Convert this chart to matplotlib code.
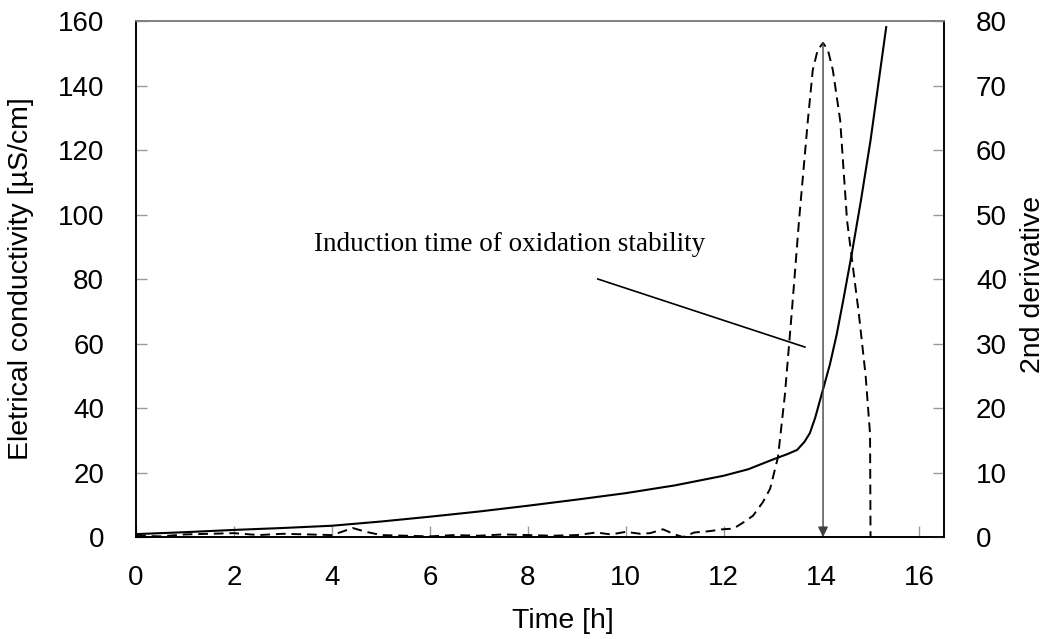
# -*- coding: utf-8 -*-
"""
电导率曲线 + 二阶导数 (诱导期判定)
"""
import matplotlib
matplotlib.use('Agg')
import matplotlib.pyplot as plt

plt.rcParams['font.family'] = ['Liberation Sans', 'DejaVu Sans']

# ---- 电导率 (左轴) ----
t_cond = [0, 1, 2, 3, 4, 5, 6, 7, 8, 9, 10, 11, 12, 12.5, 13, 13.3, 13.5,
          13.65, 13.76, 13.87, 13.97, 14.07, 14.17, 14.31, 14.44, 14.62,
          14.8, 15.0, 15.32]
cond = [0.9, 1.5, 2.2, 2.8, 3.5, 4.8, 6.3, 7.9, 9.7, 11.6, 13.6, 16.0, 19.0,
        21.0, 24.0, 25.7, 27.0, 29.5, 32.2, 37.0, 42.5, 48.0, 53.5, 62.9,
        73.2, 88.1, 104.0, 123.0, 158.1]

# ---- 二阶导数 (右轴) ----
t_d2 = [0, 0.5, 1, 1.5, 2, 2.5, 3, 3.5, 4, 4.2, 4.42, 4.7, 5, 5.5, 6, 6.5,
        7, 7.5, 8, 8.5, 9, 9.4, 9.7, 10, 10.3, 10.5, 10.76, 11.0, 11.17,
        11.4, 11.7, 11.98, 12.2, 12.39, 12.6, 12.8, 12.95, 13.11, 13.25,
        13.39, 13.54, 13.72, 13.82, 13.92, 14.03, 14.13, 14.23, 14.38, 14.52,
        14.76, 14.9, 14.99, 15.0, 15.3]
d2 = [0.2, 0.1, 0.4, 0.5, 0.6, 0.3, 0.5, 0.4, 0.3, 0.8, 1.4, 0.8, 0.3, 0.2,
      0.1, 0.3, 0.2, 0.4, 0.3, 0.2, 0.3, 0.7, 0.4, 0.8, 0.5, 0.6, 1.2, 0.4,
      0.0, 0.7, 0.9, 1.2, 1.3, 2.2, 3.3, 5.4, 7.5, 12.4, 22.0, 34.7, 49.1,
      64.6, 72.4, 75.5, 76.6, 75.5, 72.4, 64.6, 49.1, 34.7, 25.0, 16.0, 0.0,
      0.0]

t_induction = 14.03
peak_d2 = 76.6

TICK_C = '#9a9a9a'
FS = 20

fig = plt.figure(figsize=(10.47, 6.39), dpi=100)
ax = fig.add_axes([0.130, 0.1596, 0.7716, 0.8075])
ax2 = ax.twinx()

ax.plot(t_cond, cond, '-', color='black', linewidth=1.5)
ax2.plot(t_d2, d2, color='black', linewidth=1.4, dashes=(5, 3))

ax.set_xlim(0, 16.5)
ax.set_ylim(0, 160)
ax2.set_ylim(0, 80)
ax.set_xticks(range(0, 17, 2))
ax.set_yticks(range(0, 161, 20))
ax2.set_yticks(range(0, 81, 10))

ax.tick_params(axis='both', direction='in', length=8, width=1,
               color=TICK_C, labelsize=FS, pad=23)
ax.tick_params(axis='x', pad=20)
ax2.tick_params(axis='y', direction='in', length=8, width=1,
                color=TICK_C, labelsize=FS, pad=23)

for a in (ax, ax2):
    for s in ('left', 'right', 'bottom'):
        a.spines[s].set_color('black')
        a.spines[s].set_linewidth(1.2)
    a.spines['top'].set_color('#808080')
    a.spines['top'].set_linewidth(1.2)

ax.set_xlabel('Time [h]', fontsize=20.5)
ax.xaxis.set_label_coords(0.528, -0.138)
ax.set_ylabel('Eletrical conductivity [µS/cm]', fontsize=20.5)
ax.yaxis.set_label_coords(-0.126, 0.5)
ax2.set_ylabel('2nd derivative', fontsize=20.5)
ax2.yaxis.set_label_coords(1.0935, 0.49)

# 诱导期箭头
ax2.annotate('', xy=(t_induction, 0), xytext=(t_induction, peak_d2),
             arrowprops=dict(arrowstyle='-|>', color='#404040', lw=1.0,
                             mutation_scale=15, shrinkA=0, shrinkB=0))

# 标注文字与引线
ax.text(3.64, 88.7, 'Induction time of oxidation stability',
        family=['Liberation Serif', 'DejaVu Serif'], fontsize=19.5,
        ha='left', va='baseline')
ax.plot([9.43, 13.66], [80.0, 58.9], '-', color='black', linewidth=1.2)

fig.savefig('out.png', dpi=100)
